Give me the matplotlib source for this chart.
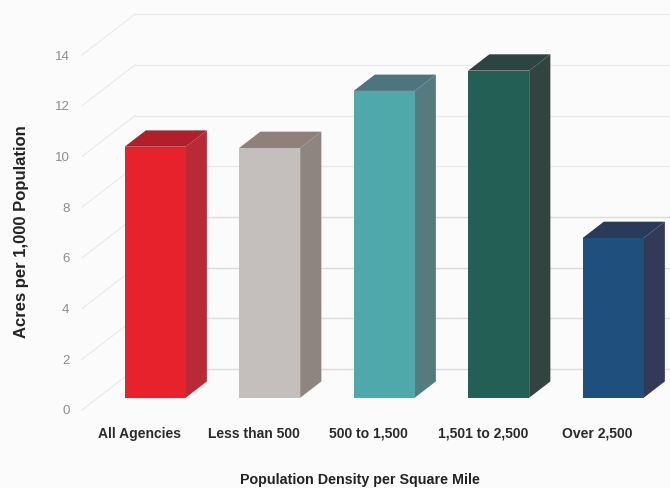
import matplotlib
matplotlib.use('Agg')
import matplotlib.pyplot as plt
from matplotlib.patches import Polygon

plt.rcParams['font.family'] = ['Liberation Sans', 'DejaVu Sans']

categorias = ['All Agencies', 'Less than 500', '500 to 1,500', '1,501 to 2,500', 'Over 2,500']
valores = [9.9, 9.85, 12.1, 12.9, 6.3]
ticks_y = [0, 2, 4, 6, 8, 10, 12, 14]

color_frente = ['#e8222c', '#c4bfbc', '#4fa8aa', '#235f54', '#1f4f7d']
color_lado = ['#b82a36', '#8f8580', '#567b7e', '#32443f', '#333a56']
color_tapa = ['#b11f2a', '#8f807a', '#4d7580', '#2c4442', '#2a3a5a']

# profundidad del "3D" en unidades de datos
DX = 0.463
DY = 1.61
D_FRENTE = 0.3
D_FONDO = 0.7
ANCHO = 0.533

W, H = 670, 488
fig = plt.figure(figsize=(W / 100, H / 100), dpi=100, facecolor='#fbfbfc')
ax = fig.add_axes([82 / W, (H - 410) / H, (654.5 - 82) / W, (410 - 55) / H])
ax.set_facecolor('none')
ax.set_xlim(-0.5, 4.5)
ax.set_ylim(0, 14)
for s in ax.spines.values():
    s.set_visible(False)


def punto(x, y, d):
    return (x + d * DX, y + d * DY)


# paredes: lineas de fondo y diagonales
for t in ticks_y:
    col = '#dcdcdc' if t <= 6 else '#ebebeb'
    ax.plot([-0.5, -0.5 + DX], [t, t + DY], color='#ececec', lw=1, clip_on=False, zorder=1)
    ax.plot([-0.5 + DX, 5.2], [t + DY, t + DY], color=col, lw=1, clip_on=False, zorder=1)

for i, v in enumerate(valores):
    x0 = i - ANCHO / 2
    x1 = i + ANCHO / 2
    base = D_FRENTE * DY
    # frente
    ax.bar(i + D_FRENTE * DX, v, width=ANCHO, bottom=base, color=color_frente[i], zorder=3)
    # lado derecho
    lado = [punto(x1, 0, D_FRENTE), punto(x1, 0, D_FONDO), punto(x1, v, D_FONDO), punto(x1, v, D_FRENTE)]
    ax.add_patch(Polygon(lado, closed=True, fc=color_lado[i], ec='none', zorder=2, clip_on=False))
    # tapa
    tapa = [punto(x0, v, D_FRENTE), punto(x1, v, D_FRENTE), punto(x1, v, D_FONDO), punto(x0, v, D_FONDO)]
    ax.add_patch(Polygon(tapa, closed=True, fc=color_tapa[i], ec='none', zorder=2, clip_on=False))

ax.set_yticks(ticks_y)
ax.set_yticklabels([str(t) for t in ticks_y], fontsize=9.5, color='#8c8c8c')
ax.set_xticks(range(len(categorias)))
ax.set_xticklabels(categorias, fontsize=10, color='#2a2a2a', fontweight='bold')
ax.tick_params(axis='y', length=0, pad=9)
ax.tick_params(axis='x', length=0, pad=12)

fig.text(22 / W, 1 - 232 / H, 'Acres per 1,000 Population', rotation=90, ha='center', va='center',
         fontsize=12, fontweight='bold', color='#222222')
fig.text(360 / W, 1 - 480 / H, 'Population Density per Square Mile', ha='center', va='center',
         fontsize=10.3, fontweight='bold', color='#222222')

plt.savefig('out.png', dpi=100, facecolor=fig.get_facecolor())
plt.close()
